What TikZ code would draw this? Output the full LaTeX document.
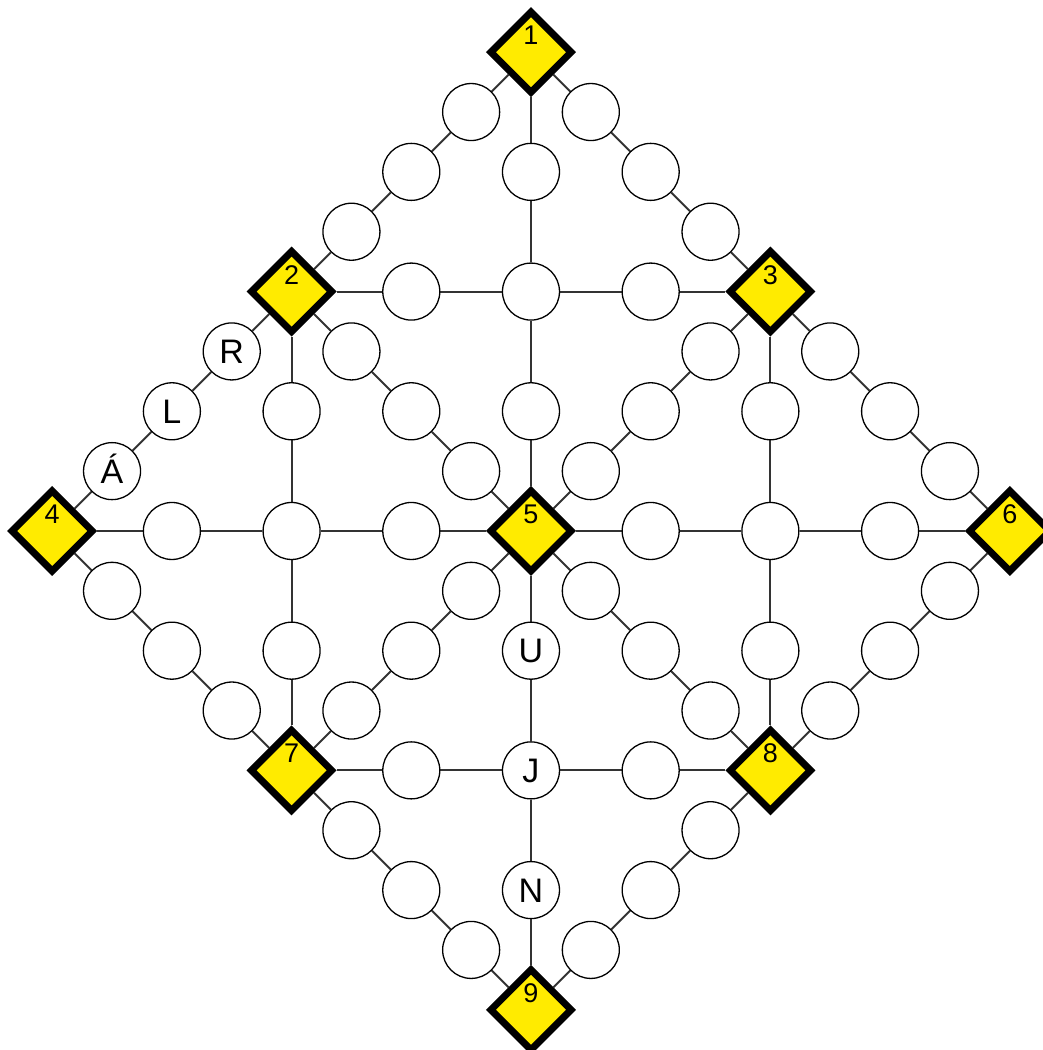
\documentclass[tikz,border=0pt]{standalone}
\usepackage{fontspec}
\setmainfont{Liberation Sans}
\usetikzlibrary{shapes.geometric,backgrounds}
\definecolor{hubyellow}{RGB}{255,235,0}
\begin{document}
\begin{tikzpicture}[x=29.925pt,y=29.925pt,
  hub/.style={diamond,aspect=1,draw=black,line width=3.5pt,fill=hubyellow,
    minimum size=41.5pt,inner sep=0pt,font=\fontsize{13.5}{13.5}\selectfont,
    text height=9.6pt,text depth=17pt},
  spot/.style={circle,draw=black,line width=0.65pt,fill=white,
    minimum size=28.5pt,inner sep=0pt,font=\fontsize{17}{17}\selectfont,
    text height=12.2pt,text depth=0pt},
  conn/.style={draw=black!80,line width=1pt}]
\useasboundingbox (-8.872,-8.672) rectangle (8.555,8.872);
% numbered diamonds
\node[hub] (p0_8)   at (0,8)   {1};
\node[hub] (p-4_4)  at (-4,4)  {2};
\node[hub] (p4_4)   at (4,4)   {3};
\node[hub] (p-8_0)  at (-8,0)  {4};
\node[hub] (p0_0)   at (0,0)   {5};
\node[hub] (p8_0)   at (8,0)   {6};
\node[hub] (p-4_-4) at (-4,-4) {7};
\node[hub] (p4_-4)  at (4,-4)  {8};
\node[hub] (p0_-8)  at (0,-8)  {9};
% empty circles
\foreach \x/\y in {-1/7,-2/6,-3/5, 1/7,2/6,3/5,
  5/3,6/2,7/1, -7/-1,-6/-2,-5/-3, 7/-1,6/-2,5/-3,
  -3/-5,-2/-6,-1/-7, 3/-5,2/-6,1/-7,
  -3/3,-2/2,-1/1, 3/3,2/2,1/1, -3/-3,-2/-2,-1/-1, 3/-3,2/-2,1/-1,
  0/6,0/4,0/2, -6/0,-4/0,-2/0, 2/0,4/0,6/0,
  -2/4,2/4, -2/-4,2/-4, -4/2,-4/-2, 4/2,4/-2}
  \node[spot] (p\x_\y) at (\x,\y) {};
% lettered circles
\node[spot] (p-5_3) at (-5,3) {R};
\node[spot] (p-6_2) at (-6,2) {L};
\node[spot] (p-7_1) at (-7,1) {Á};
\node[spot] (p0_-2) at (0,-2) {U};
\node[spot] (p0_-4) at (0,-4) {J};
\node[spot] (p0_-6) at (0,-6) {N};
% connectors
\begin{scope}[on background layer]
\foreach \sx/\sy/\dx/\dy in {0/8/-1/-1, 0/8/1/-1, -4/4/-1/-1, 4/4/1/-1,
  -8/0/1/-1, 8/0/-1/-1, -4/-4/1/-1, 4/-4/-1/-1,
  -4/4/1/-1, 4/4/-1/-1, -4/-4/1/1, 4/-4/-1/1,
  0/8/0/-2, 0/0/0/-2, -8/0/2/0, 0/0/2/0, -4/4/2/0, -4/-4/2/0,
  -4/4/0/-2, 4/4/0/-2}
  \foreach \k in {0,1,2,3} {
    \pgfmathtruncatemacro\ax{\sx+\k*\dx}
    \pgfmathtruncatemacro\ay{\sy+\k*\dy}
    \pgfmathtruncatemacro\bx{\sx+(\k+1)*\dx}
    \pgfmathtruncatemacro\by{\sy+(\k+1)*\dy}
    \draw[conn] (p\ax_\ay) -- (p\bx_\by);
  }
\end{scope}
\end{tikzpicture}
\end{document}
